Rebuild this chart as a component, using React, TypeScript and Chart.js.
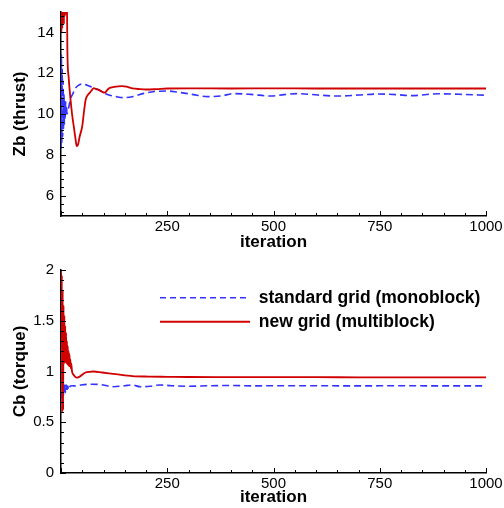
import React, { useEffect, useRef } from 'react';
import { Chart, registerables } from 'chart.js';

Chart.register(...registerables);

const FONT = "'Liberation Sans', Arial, Helvetica, sans-serif";
const BLUE = 'rgb(52, 52, 255)';
const RED = 'rgb(208, 0, 0)';

// ---- data: top panel, Zb (thrust) ----
const zbStdIter = [0, 1, 2, 3, 4, 5, 6, 7, 8, 9, 10, 11, 12, 13, 14, 16, 18, 22, 28, 34, 42, 50, 58, 66, 78, 89, 100, 113, 130, 147, 170, 195, 220, 250, 275, 298, 320, 345, 376, 407, 447, 494, 525, 557, 604, 651, 700, 746, 790, 824, 887, 949, 1000];
const zbStdVal = [8.3, 12.9, 8.6, 12.2, 8.9, 11.6, 9.3, 11.0, 9.5, 10.6, 9.8, 10.6, 9.9, 10.4, 10.0, 10.1, 10.3, 10.7, 11.0, 11.27, 11.42, 11.47, 11.44, 11.37, 11.28, 11.18, 11.05, 10.93, 10.85, 10.8, 10.86, 11.01, 11.1, 11.13, 11.07, 11.0, 10.92, 10.85, 10.88, 11.0, 10.96, 10.88, 10.95, 11.0, 10.93, 10.88, 10.93, 10.98, 10.95, 10.9, 10.99, 10.96, 10.92];
const zbNewIter = [0, 1, 2, 3, 4, 5, 6, 7, 8, 9, 10, 11, 12, 13, 14, 15, 18, 22, 26, 30, 34, 37, 40, 44, 50, 54, 58, 62, 66, 72, 77, 83, 89, 96, 103, 108, 113, 125, 144, 156, 168, 185, 200, 225, 250, 300, 400, 500, 600, 700, 800, 900, 1000];
const zbNewVal = [22, 14.0, 19, 14.2, 18, 14.6, 17, 14.4, 16.5, 14.8, 16, 14.9, 15.6, 15.2, 15.4, 13.1, 11.8, 10.8, 10.0, 9.4, 8.8, 8.43, 8.5, 8.9, 9.4, 10.1, 10.7, 10.9, 11.0, 11.15, 11.27, 11.22, 11.18, 11.1, 11.05, 11.15, 11.26, 11.33, 11.37, 11.33, 11.26, 11.22, 11.2, 11.22, 11.25, 11.26, 11.25, 11.26, 11.25, 11.25, 11.25, 11.25, 11.25];

// ---- data: bottom panel, Cb (torque) ----
const cbStdIter = [0, 1, 2, 3, 4, 5, 6, 7, 8, 9, 10, 12, 14, 16, 18, 22, 28, 34, 50, 66, 90, 123, 150, 167, 187, 210, 233, 260, 300, 350, 400, 450, 500, 600, 700, 800, 900, 1000];
const cbStdVal = [0.73, 0.8, 0.74, 0.86, 0.75, 0.88, 0.76, 0.89, 0.78, 0.87, 0.79, 0.87, 0.8, 0.86, 0.82, 0.857, 0.86, 0.857, 0.87, 0.874, 0.872, 0.85, 0.86, 0.867, 0.85, 0.855, 0.867, 0.86, 0.855, 0.86, 0.862, 0.858, 0.86, 0.86, 0.858, 0.86, 0.858, 0.858];
const cbNewIter = [0, 1, 2, 3, 4, 5, 6, 7, 8, 9, 10, 11, 12, 13, 14, 15, 16, 17, 18, 19, 20, 21, 22, 23, 24, 26, 30, 34, 37, 42, 46, 52, 58, 66, 77, 97, 128, 168, 206, 250, 300, 400, 500, 600, 700, 800, 900, 1000];
const cbNewVal = [2.0, 1.3, 1.95, 0.6, 1.8, 0.62, 1.65, 1.1, 1.55, 1.08, 1.45, 1.1, 1.38, 1.08, 1.3, 1.07, 1.25, 1.06, 1.2, 1.05, 1.17, 1.05, 1.12, 1.03, 1.08, 1.0, 0.965, 0.945, 0.94, 0.945, 0.955, 0.975, 0.99, 0.997, 1.0, 0.99, 0.975, 0.955, 0.95, 0.948, 0.946, 0.945, 0.944, 0.944, 0.943, 0.943, 0.943, 0.943];

// ---- ticks / labels ----
const iterTicks = [250, 500, 750, 1000];
const iterMinorStep = 50;
const zbTicks = [6, 8, 10, 12, 14];
const zbMinorStep = 0.4;
const cbTicks = [0, 0.5, 1, 1.5, 2];
const cbMinorStep = 0.1;
const seriesLabels = ['standard grid (monoblock)', 'new grid (multiblock)'];
const xTitle = 'iteration';
const zbTitle = 'Zb (thrust)';
const cbTitle = 'Cb (torque)';

function stepValues(min: number, max: number, base: number, step: number) {
  const out: number[] = [];
  const eps = 1e-6;
  const k0 = Math.ceil((min - base) / step - eps);
  for (let k = k0; base + k * step <= max + eps; k++) out.push(base + k * step);
  return out;
}

const isIn = (v: number, arr: number[]) => arr.some((a) => Math.abs(a - v) < 1e-6);

const inwardTicks = {
  id: 'inwardTicks',
  afterDatasetsDraw(chart: any, _args: any, opts: any) {
    const { ctx, chartArea: a } = chart;
    const xs = chart.scales.x;
    const ys = chart.scales.y;
    ctx.save();
    ctx.strokeStyle = '#000';
    ctx.lineWidth = 1;
    ctx.beginPath();
    for (const v of stepValues(xs.min, xs.max, 0, opts.xMinor)) {
      const major = v === 0 || isIn(v, opts.xMajor);
      const px = Math.round(xs.getPixelForValue(v)) + 0.5;
      ctx.moveTo(px, a.bottom);
      ctx.lineTo(px, a.bottom - (major ? 5 : 3));
    }
    for (const v of stepValues(ys.min, ys.max, opts.yMajor[0], opts.yMinor)) {
      const major = isIn(v, opts.yMajor);
      const py = Math.round(ys.getPixelForValue(v)) + 0.5;
      ctx.moveTo(a.left, py);
      ctx.lineTo(a.left + (major ? 5 : 3), py);
    }
    ctx.stroke();
    ctx.restore();
  },
};

const legendPlacer = {
  id: 'legendPlacer',
  afterLayout(chart: any, _args: any, opts: any) {
    const lg = chart.legend;
    if (!lg) return;
    const a = chart.chartArea;
    lg.left = a.left + opts.dx;
    lg.top = a.top + opts.dy;
    lg.right = chart.width;
    lg.bottom = chart.height;
    lg.width = lg.right - lg.left;
    lg.height = lg.bottom - lg.top;
  },
};

type Panel = {
  stdIter: number[]; stdVal: number[]; newIter: number[]; newVal: number[];
  yMin: number; yMax: number; yTicks: number[]; yMinor: number; yTitle: string;
  padTop: number; padBottom: number; xAxisHeight: number; legend: boolean;
};

const topPanel: Panel = {
  stdIter: zbStdIter, stdVal: zbStdVal, newIter: zbNewIter, newVal: zbNewVal,
  yMin: 5, yMax: 15, yTicks: zbTicks, yMinor: zbMinorStep, yTitle: zbTitle,
  padTop: 12, padBottom: 2, xAxisHeight: 37, legend: false,
};
const bottomPanel: Panel = {
  stdIter: cbStdIter, stdVal: cbStdVal, newIter: cbNewIter, newVal: cbNewVal,
  yMin: 0, yMax: 2, yTicks: cbTicks, yMinor: cbMinorStep, yTitle: cbTitle,
  padTop: 15, padBottom: 0, xAxisHeight: 35, legend: true,
};

function buildConfig(p: Panel): any {
  const tickFont = { family: FONT, size: 15 };
  const titleFont = { family: FONT, size: 17, weight: 'bold' };
  return {
    type: 'line',
    data: {
      datasets: [
        {
          label: seriesLabels[0],
          data: p.stdIter.map((x, i) => ({ x, y: p.stdVal[i] })),
          borderColor: BLUE,
          backgroundColor: BLUE,
          borderWidth: 1.6,
          borderDash: [7, 4],
          pointRadius: 0,
          cubicInterpolationMode: 'monotone',
          order: 1,
        },
        {
          label: seriesLabels[1],
          data: p.newIter.map((x, i) => ({ x, y: p.newVal[i] })),
          borderColor: RED,
          backgroundColor: RED,
          borderWidth: 1.8,
          pointRadius: 0,
          cubicInterpolationMode: 'monotone',
          order: 0,
        },
      ],
    },
    options: {
      animation: false,
      responsive: false,
      devicePixelRatio: 1,
      layout: { padding: { left: 0, right: 18, top: p.padTop, bottom: p.padBottom } },
      plugins: {
        tooltip: { enabled: false },
        legend: {
          display: p.legend,
          position: 'chartArea',
          align: 'start',
          labels: {
            usePointStyle: true,
            pointStyle: 'line',
            pointStyleWidth: 90,
            padding: 6.5,
            color: '#000',
            font: { family: FONT, size: 17.5, weight: 'bold' },
            sort: (a: any, b: any) => a.datasetIndex - b.datasetIndex,
            generateLabels: (chart: any) => {
              const items = Chart.defaults.plugins.legend.labels.generateLabels(chart);
              return items.map((it: any) => {
                const ds = chart.data.datasets[it.datasetIndex];
                return {
                  ...it,
                  lineDash: ds.borderDash ? [6, 4] : [],
                  lineWidth: ds.borderWidth,
                  strokeStyle: ds.borderColor,
                  fillStyle: ds.borderColor,
                };
              });
            },
          },
        },
        inwardTicks: { xMinor: iterMinorStep, xMajor: iterTicks, yMinor: p.yMinor, yMajor: p.yTicks },
        legendPlacer: { dx: 92.5, dy: 12.5 },
      },
      scales: {
        x: {
          type: 'linear',
          min: 0,
          max: 1000,
          afterBuildTicks: (s: any) => { s.ticks = iterTicks.map((v) => ({ value: v })); },
          afterFit: (s: any) => { s.height = p.xAxisHeight; s.paddingLeft = 0; s.paddingRight = 0; },
          grid: { display: false, drawTicks: false },
          border: { display: true, color: '#000', width: 1.5 },
          ticks: { padding: 2, color: '#000', font: tickFont, maxRotation: 0, autoSkip: false, callback: (v: any) => String(v) },
          title: { display: true, text: xTitle, color: '#000', font: titleFont, padding: { top: 0, bottom: 0 } },
        },
        y: {
          type: 'linear',
          min: p.yMin,
          max: p.yMax,
          afterBuildTicks: (s: any) => { s.ticks = p.yTicks.map((v) => ({ value: v })); },
          afterFit: (s: any) => { s.width = 61; s.paddingTop = 0; s.paddingBottom = 0; },
          grid: { display: false, drawTicks: false },
          border: { display: true, color: '#000', width: 1.5 },
          ticks: { padding: 7, color: '#000', font: tickFont, autoSkip: false, callback: (v: any) => String(v) },
          title: { display: true, text: p.yTitle, color: '#000', font: titleFont, padding: { top: 10, bottom: 0 } },
        },
      },
    },
    plugins: p.legend ? [inwardTicks, legendPlacer] : [inwardTicks],
  };
}

export default function App() {
  const topRef = useRef<HTMLCanvasElement>(null);
  const botRef = useRef<HTMLCanvasElement>(null);
  useEffect(() => {
    const c1 = new Chart(topRef.current as HTMLCanvasElement, buildConfig(topPanel));
    const c2 = new Chart(botRef.current as HTMLCanvasElement, buildConfig(bottomPanel));
    return () => {
      c1.destroy();
      c2.destroy();
    };
  }, []);
  return (
    <div style={{ position: 'absolute', left: 0, top: 0, width: 504, height: 508, background: '#fff' }}>
      <canvas ref={topRef} width={504} height={255} style={{ display: 'block', width: 504, height: 255 }} />
      <canvas ref={botRef} width={504} height={253} style={{ display: 'block', width: 504, height: 253 }} />
    </div>
  );
}
